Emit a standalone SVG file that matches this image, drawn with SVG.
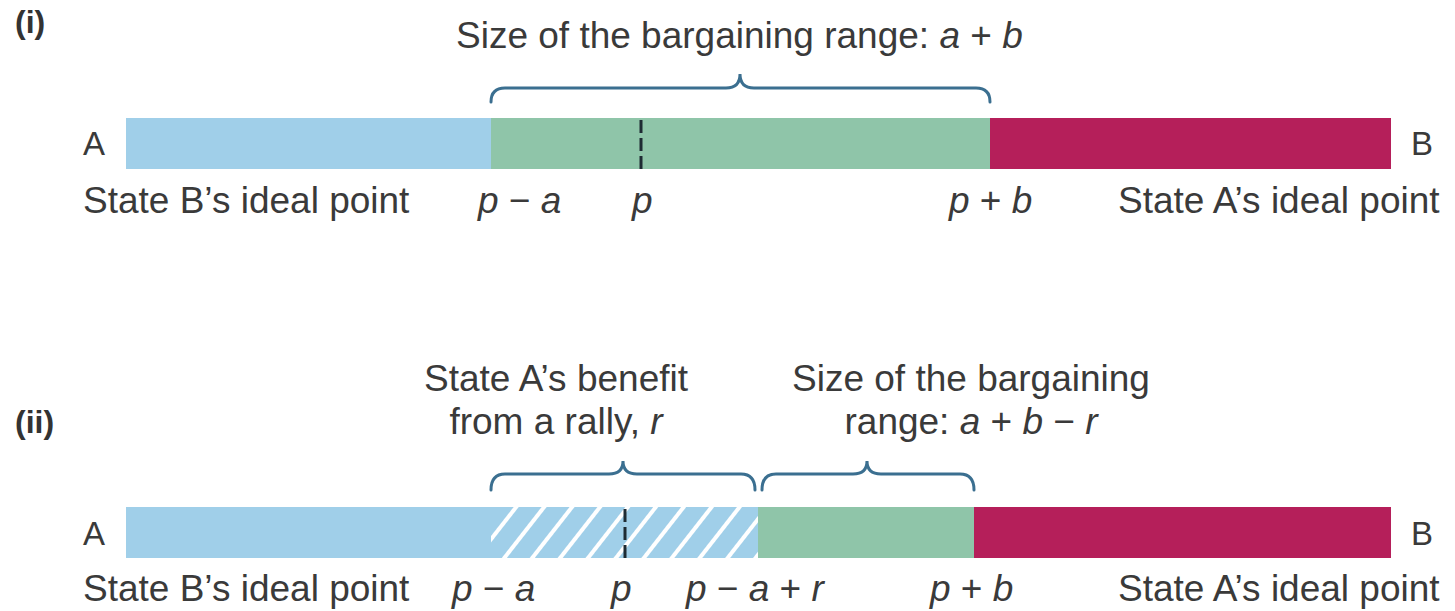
<svg xmlns="http://www.w3.org/2000/svg" width="1455" height="611" viewBox="0 0 1455 611">
<style>
text{font-family:"Liberation Sans",Arial,sans-serif;fill:#3a3a3a;font-size:37px}
.lbl{font-weight:bold;font-size:32px;fill:#333}
.end{font-size:33px}
.it{font-style:italic}
.brace{fill:none;stroke:#3b6f90;stroke-width:3;stroke-linecap:round}
.dash{stroke:#1e2b33;stroke-width:3;stroke-dasharray:13 5}
.blue{fill:#a0cfe9}
.green{fill:#8fc5a9}
.red{fill:#b51f5a}
</style>
<defs>
<pattern id="hatch" patternUnits="userSpaceOnUse" width="22" height="20" patternTransform="translate(491 0) rotate(38)">
<rect width="22" height="20" fill="#a0cfe9"/>
<rect x="0" width="4" height="20" fill="#ffffff"/>
</pattern>
</defs>
<g id="panel-i">
<text class="lbl" x="15" y="33">(i)</text>
<g id="title-i"><text x="456" y="48">Size of the bargaining range: <tspan class="it">a</tspan> + <tspan class="it">b</tspan></text></g>
<g id="bar-i">
<rect class="blue" x="126" y="118" width="365" height="51"/>
<rect class="green" x="491" y="118" width="499" height="51"/>
<rect class="red" x="990" y="118" width="401" height="51"/>
</g>
<text class="end" x="83" y="155">A</text>
<text class="end" x="1411" y="155">B</text>
<text x="83" y="213">State B’s ideal point</text>
<text x="478" y="213"><tspan class="it">p</tspan> − <tspan class="it">a</tspan></text>
<text class="it" x="632" y="213">p</text>
<text x="949" y="213"><tspan class="it">p</tspan> + <tspan class="it">b</tspan></text>
<text x="1118" y="213">State A’s ideal point</text>
</g>
<g id="panel-ii">
<text class="lbl" x="15" y="433">(ii)</text>
<g id="title-ii-left">
<text x="556" y="391" text-anchor="middle">State A’s benefit</text>
<text x="556" y="434" text-anchor="middle">from a rally, <tspan class="it">r</tspan></text>
</g>
<g id="title-ii-right">
<text x="971" y="391" text-anchor="middle">Size of the bargaining</text>
<text x="971" y="434" text-anchor="middle">range: <tspan class="it">a</tspan> + <tspan class="it">b</tspan> − <tspan class="it">r</tspan></text>
</g>
<g id="bar-ii">
<rect class="blue" x="126" y="507" width="365" height="51"/>
<rect fill="url(#hatch)" x="491" y="507" width="267" height="51"/>
<rect class="green" x="758" y="507" width="216" height="51"/>
<rect class="red" x="974" y="507" width="417" height="51"/>
</g>
<text class="end" x="83" y="545">A</text>
<text class="end" x="1411" y="545">B</text>
<text x="83" y="601">State B’s ideal point</text>
<text x="452" y="601"><tspan class="it">p</tspan> − <tspan class="it">a</tspan></text>
<text class="it" x="611" y="601">p</text>
<text x="686" y="601"><tspan class="it">p</tspan> − <tspan class="it">a</tspan> + <tspan class="it">r</tspan></text>
<text x="930" y="601"><tspan class="it">p</tspan> + <tspan class="it">b</tspan></text>
<text x="1118" y="601">State A’s ideal point</text>
</g>
<g id="connectors">
<path class="brace" d="M491 102 Q491 88 505 88 L726 88 Q740 88 740 74 Q740 88 754 88 L976 88 Q990 88 990 102"/>
<path class="brace" d="M491 490 Q491 474 505 474 L609 474 Q623 474 623 461 Q623 474 637 474 L741 474 Q755 474 755 490"/>
<path class="brace" d="M762 490 Q762 474 776 474 L853 474 Q867 474 867 461 Q867 474 881 474 L960 474 Q974 474 974 490"/>
<line class="dash" x1="641" y1="120" x2="641" y2="170"/>
<line class="dash" x1="625" y1="509" x2="625" y2="559"/>
</g>
</svg>
